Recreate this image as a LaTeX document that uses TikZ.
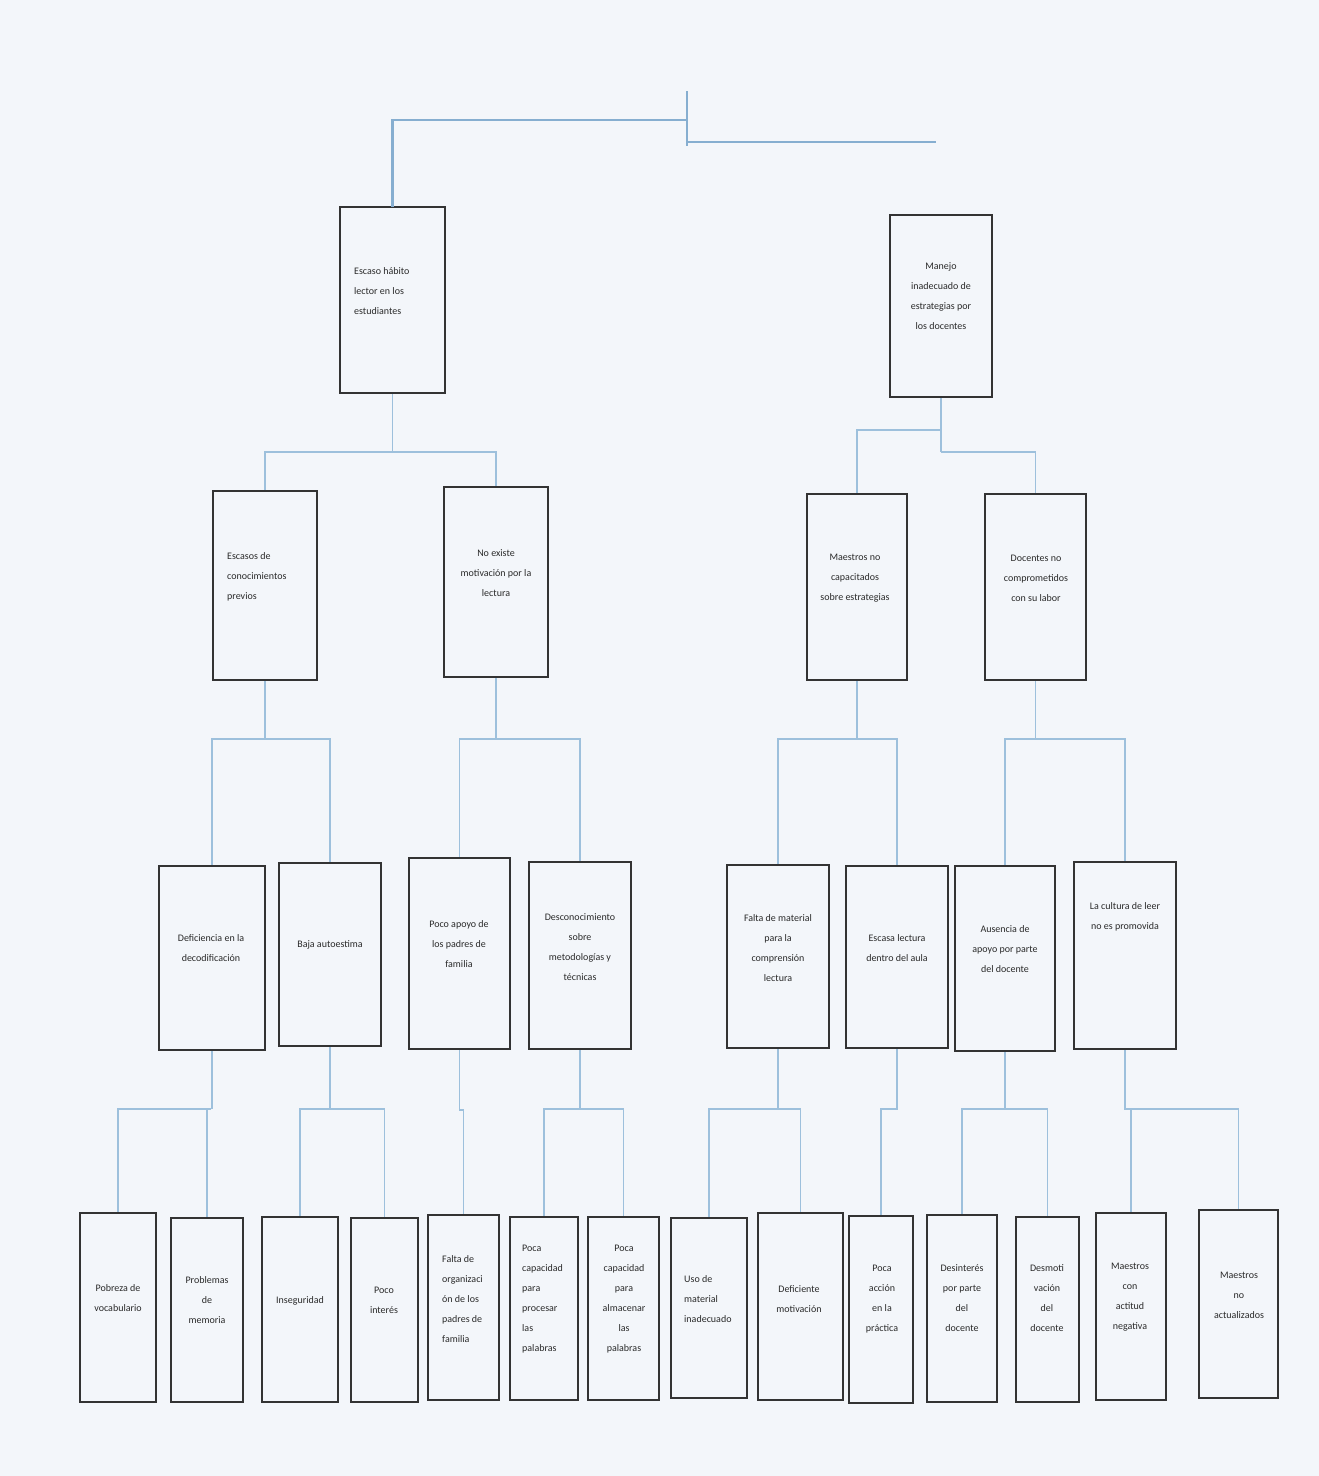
\documentclass[tikz,border=0pt]{standalone}
\usepackage{fontspec}
\setmainfont{Carlito}
\definecolor{bg}{HTML}{F3F6FA}
\definecolor{boxgray}{HTML}{333333}
\definecolor{txtgray}{HTML}{2A2A2A}
\definecolor{lineblue}{HTML}{9DC0DC}
\definecolor{topblue}{HTML}{86AED0}
\newcommand\drawbox[5]{\node[box, minimum width={(#4-#2)*1pt}, minimum height={(#5-#3)*1pt}] (#1) at ({(#2+#4)/2},{(#3+#5)/2}) {};}
\begin{document}
\begin{tikzpicture}[x=1pt,y=-1pt,
  box/.style={draw=boxgray, line width=2.9pt, inner sep=0pt},
  txt/.style={text=txtgray, font=\fontsize{10}{20}\selectfont, inner sep=0pt, align=center},
  txtl/.style={txt, align=left, anchor=west},
  conn/.style={draw=lineblue, line width=1.7pt},
  topline/.style={draw=topblue, line width=2.6pt, line cap=rect},
  fine/.style={draw=lineblue, line width=1.3pt}]
\fill[bg] (0,0) rectangle (1319,1476);
\useasboundingbox (0,0) rectangle (1319,1476);

% ---------- boxes ----------
\drawbox{A}{340}{207}{445}{393}
\drawbox{B}{890}{215}{992}{397}
\drawbox{C1}{213}{491}{317}{680}
\drawbox{C2}{444}{487}{548}{677}
\drawbox{C3}{807}{494}{907}{680}
\drawbox{C4}{985}{494}{1086}{680}
\drawbox{D1}{159}{866}{265}{1050}
\drawbox{D2}{279}{863}{381}{1046}
\drawbox{D3}{409}{858}{510}{1049}
\drawbox{D4}{529}{862}{631}{1049}
\drawbox{D5}{727}{865}{829}{1048}
\drawbox{D6}{846}{866}{948}{1048}
\drawbox{D7}{955}{866}{1055}{1051}
\drawbox{D8}{1074}{862}{1176}{1049}
\drawbox{E1}{80}{1213}{156}{1402}
\drawbox{E2}{171}{1218}{243}{1402}
\drawbox{E3}{262}{1217}{338}{1402}
\drawbox{E4}{351}{1218}{418}{1402}
\drawbox{E5}{428}{1215}{499}{1400}
\drawbox{E6}{510}{1217}{578}{1400}
\drawbox{E7}{588}{1217}{659}{1400}
\drawbox{E8}{671}{1218}{747}{1398}
\drawbox{E9}{758}{1213}{843}{1400}
\drawbox{E10}{849}{1216}{913}{1403}
\drawbox{E11}{927}{1215}{997}{1402}
\drawbox{E12}{1016}{1217}{1079}{1402}
\drawbox{E13}{1096}{1213}{1166}{1400}
\drawbox{E14}{1199}{1210}{1278}{1398}

% ---------- texts ----------
\node[txtl] (tA) at (354,291) {Escaso hábito\\lector en los\\estudiantes};
\node[txt] (tB) at (941,296) {Manejo\\inadecuado de\\estrategias por\\los docentes};
\node[txtl] (tC1) at (227,576.5) {Escasos de\\conocimientos\\previos};
\node[txt] (tC2) at (496,573) {No existe\\motivación por la\\lectura};
\node[txt] (tC3) at (855,578) {Maestros no\\capacitados\\sobre estrategias};
\node[txt] (tC4) at (1036,578) {Docentes no\\comprometidos\\con su labor};
\node[txt] (tD1) at (211,948.5) {Deficiencia en la\\decodificación};
\node[txt] (tD2) at (330,945) {Baja autoestima};
\node[txt] (tD3) at (459,944) {Poco apoyo de\\los padres de\\familia};
\node[txt] (tD4) at (580,947) {Desconocimiento\\sobre\\metodologías y\\técnicas};
\node[txt] (tD5) at (778,948) {Falta de material\\para la\\comprensión\\lectura};
\node[txt] (tD6) at (897,948) {Escasa lectura\\dentro del aula};
\node[txt] (tD7) at (1005,949.5) {Ausencia de\\apoyo por parte\\del docente};
\node[txt] (tD8) at (1125,917) {La cultura de leer\\no es promovida};
\node[txt] (tE1) at (118,1298) {Pobreza de\\vocabulario};
\node[txt] (tE2) at (207,1300.5) {Problemas\\de\\memoria};
\node[txt] (tE3) at (300,1301) {Inseguridad};
\node[txt] (tE4) at (384,1300) {Poco\\interés};
\node[txtl] (tE5) at (442,1299) {Falta de\\organizaci\\ón de los\\padres de\\familia};
\node[txtl] (tE6) at (522,1299) {Poca\\capacidad\\para\\procesar\\las\\palabras};
\node[txt] (tE7) at (624,1299) {Poca\\capacidad\\para\\almacenar\\las\\palabras};
\node[txtl] (tE8) at (684,1299.5) {Uso de\\material\\inadecuado};
\node[txt] (tE9) at (799,1299) {Deficiente\\motivación};
\node[txt] (tE10) at (882,1299.5) {Poca\\acción\\en la\\práctica};
\node[txt] (tE11) at (962,1298.5) {Desinterés\\por parte\\del\\docente};
\node[txt] (tE12) at (1047,1298.5) {Desmoti\\vación\\del\\docente};
\node[txt] (tE13) at (1130,1297) {Maestros\\con\\actitud\\negativa};
\node[txt] (tE14) at (1239,1295) {Maestros\\no\\actualizados};

% ---------- top connectors ----------
\coordinate (t0) at (687,92);
\coordinate (t1) at (687,145);
\coordinate (tl) at (687,120);
\coordinate (tr0) at (687,142);
\coordinate (tr1) at (935,142);
\draw[topline] (t0) -- (t1);
\draw[topline] (tl) -| (A.north);
\draw[topline] (tr0) -- (tr1);

% ---------- level 1 -> 2 ----------
\coordinate (hA) at (395,452);
\draw[conn] (A.south) -- (A.south |- hA);
\draw[conn] (C1.north) |- (hA) -| (C2.north);
\coordinate (hB) at (941,452);
\coordinate (hBl) at (941,430);
\draw[conn] (B.south) -- (hB);
\draw[conn] (C3.north) |- (hBl);
\draw[conn] (hB) -| (C4.north);

% ---------- level 2 -> 3 ----------
\coordinate (hC1) at (266,739);
\draw[conn] (C1.south) -- (C1.south |- hC1);
\draw[conn] (D1.north) |- (hC1) -| (D2.north);
\coordinate (hC2) at (494,739);
\draw[conn] (C2.south) -- (C2.south |- hC2);
\draw[conn] (D3.north) |- (hC2) -| (D4.north);
\coordinate (hC3) at (857,739);
\draw[conn] (C3.south) -- (C3.south |- hC3);
\draw[conn] (D5.north) |- (hC3) -| (D6.north);
\coordinate (hC4) at (1036,739);
\draw[conn] (C4.south) -- (C4.south |- hC4);
\draw[conn] (D7.north) |- (hC4) -| (D8.north);

% ---------- level 3 -> 4 ----------
\coordinate (hD1) at (211,1109);
\draw[fine] (D1.south) -- (D1.south |- hD1);
\draw[fine] (E1.north) |- (hD1);
\draw[fine] (E2.north) -- (E2.north |- hD1);
\coordinate (hD2) at (330,1109);
\draw[fine] (D2.south) -- (D2.south |- hD2);
\draw[fine] (E3.north) |- (hD2) -| (E4.north);
\coordinate (hD3) at (460,1110);
\draw[fine] (D3.south) -- (D3.south |- hD3) -| (E5.north);
\coordinate (hD4) at (579,1109);
\draw[fine] (D4.south) -- (D4.south |- hD4);
\draw[fine] (E6.north) |- (hD4) -| (E7.north);
\coordinate (hD5) at (777,1109);
\draw[fine] (D5.south) -- (D5.south |- hD5);
\draw[fine] (E8.north) |- (hD5) -| (E9.north);
\coordinate (hD6) at (896,1109);
\draw[fine] (D6.south) -- (D6.south |- hD6) -| (E10.north);
\coordinate (hD7) at (1007,1109);
\draw[fine] (D7.south) -- (D7.south |- hD7);
\draw[fine] (E11.north) |- (hD7) -| (E12.north);
\coordinate (hD8) at (1126,1109);
\draw[fine] (D8.south) -- (D8.south |- hD8) -| (E13.north);
\draw[fine] (hD8) -| (E14.north);
\end{tikzpicture}
\end{document}
